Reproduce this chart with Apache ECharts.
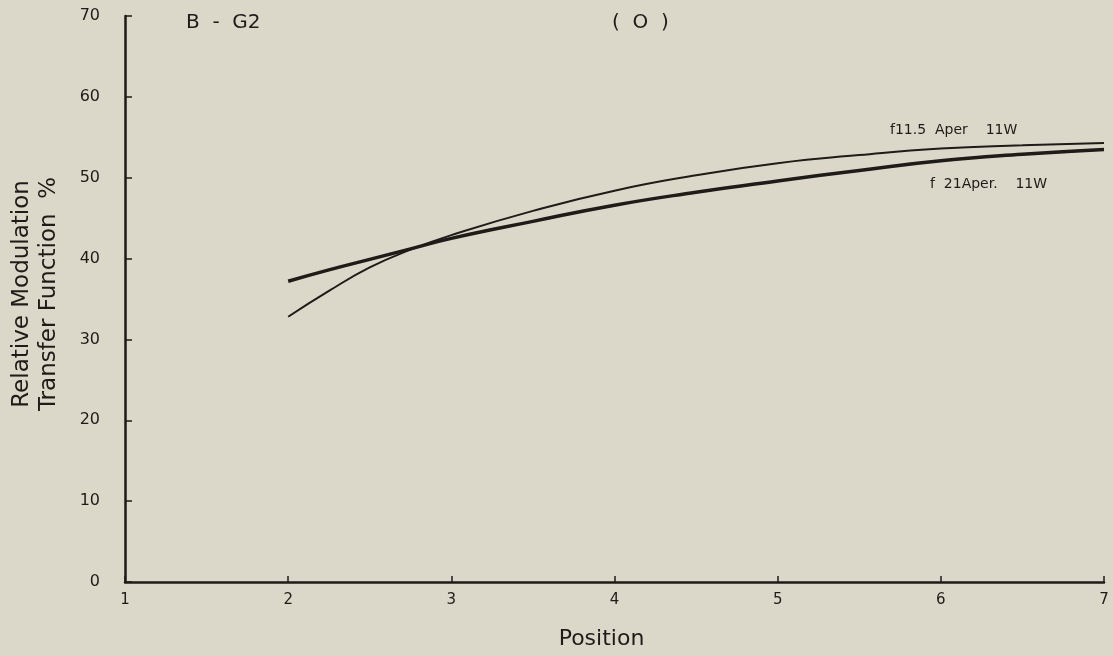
<!DOCTYPE html>
<html>
<head>
<meta charset="utf-8">
<script src="https://cdn.jsdelivr.net/npm/echarts@6/dist/echarts.min.js"></script>
<style>
html,body{margin:0;padding:0;background:#dcd8c9;}
#chart{width:1113px;height:656px;}
</style>
</head>
<body>
<div id="chart"></div>
<script>
const positions = [2, 2.25, 2.5, 2.75, 3, 3.5, 4, 4.5, 5, 5.5, 6, 6.5, 7];
const f115 = [32.8, 36.0, 38.9, 41.1, 42.9, 45.9, 48.4, 50.3, 51.8, 52.8, 53.6, 54.0, 54.3];
const f21  = [37.2, 38.6, 39.9, 41.2, 42.5, 44.6, 46.6, 48.2, 49.6, 50.9, 52.1, 52.9, 53.5];
const seriesNames = ['f11.5  Aper    11W', 'f  21Aper.    11W'];
const xTicks = [1, 2, 3, 4, 5, 6, 7];
const yTicks = [0, 10, 20, 30, 40, 50, 60, 70];

const ink = '#1e1b19';
const font = 'DejaVu Sans';
const chart = echarts.init(document.getElementById('chart'));
chart.setOption({
  backgroundColor: '#dcd8c9',
  animation: false,
  grid: {left: 125, right: 9, top: 16, bottom: 74, containLabel: false, outerBoundsMode: 'none'},
  title: [
    {text: 'B  -  G2', left: 181, top: 8, textStyle: {fontFamily: font, fontSize: 20, fontWeight: 'normal', color: ink}},
    {text: '(  O  )', left: 607, top: 8, textStyle: {fontFamily: font, fontSize: 20, fontWeight: 'normal', color: ink}}
  ],
  xAxis: {
    type: 'value', min: 1, max: 7, interval: 1,
    name: 'Position', nameLocation: 'middle', nameGap: 46,
    nameTextStyle: {fontFamily: font, fontSize: 22, color: ink, padding: [0, 26, 0, 0]},
    axisLine: {lineStyle: {color: ink, width: 2.5}},
    axisTick: {inside: true, length: 6, lineStyle: {color: ink, width: 1.5}},
    axisLabel: {fontFamily: font, fontSize: 15, color: ink, margin: 11,
      formatter: v => xTicks.includes(v) ? String(v) : ''},
    splitLine: {show: false}
  },
  yAxis: {
    type: 'value', min: 0, max: 70, interval: 10,
    name: 'Relative Modulation\nTransfer Function  %', nameLocation: 'middle', nameGap: 62,
    nameRotate: 90,
    nameTextStyle: {fontFamily: font, fontSize: 23, color: ink, lineHeight: 27, padding: [0, 0, 0, 10]},
    axisLine: {lineStyle: {color: ink, width: 2.5}},
    axisTick: {inside: true, length: 7, lineStyle: {color: ink, width: 1.5}},
    axisLabel: {fontFamily: font, fontSize: 16, color: ink, margin: 25,
      formatter: v => yTicks.includes(v) ? String(v) : ''},
    splitLine: {show: false}
  },
  series: [
    {
      name: seriesNames[0], type: 'line', smooth: true, symbol: 'none',
      data: positions.map((x, i) => [x, f115[i]]),
      lineStyle: {color: ink, width: 2},
      endLabel: {show: true, formatter: seriesNames[0], offset: [-222, -13],
        fontFamily: font, fontSize: 14, color: ink}
    },
    {
      name: seriesNames[1], type: 'line', smooth: true, symbol: 'none',
      data: positions.map((x, i) => [x, f21[i]]),
      lineStyle: {color: ink, width: 3.5},
      endLabel: {show: true, formatter: seriesNames[1], offset: [-182, 35],
        fontFamily: font, fontSize: 14, color: ink}
    }
  ]
});
</script>
</body>
</html>
